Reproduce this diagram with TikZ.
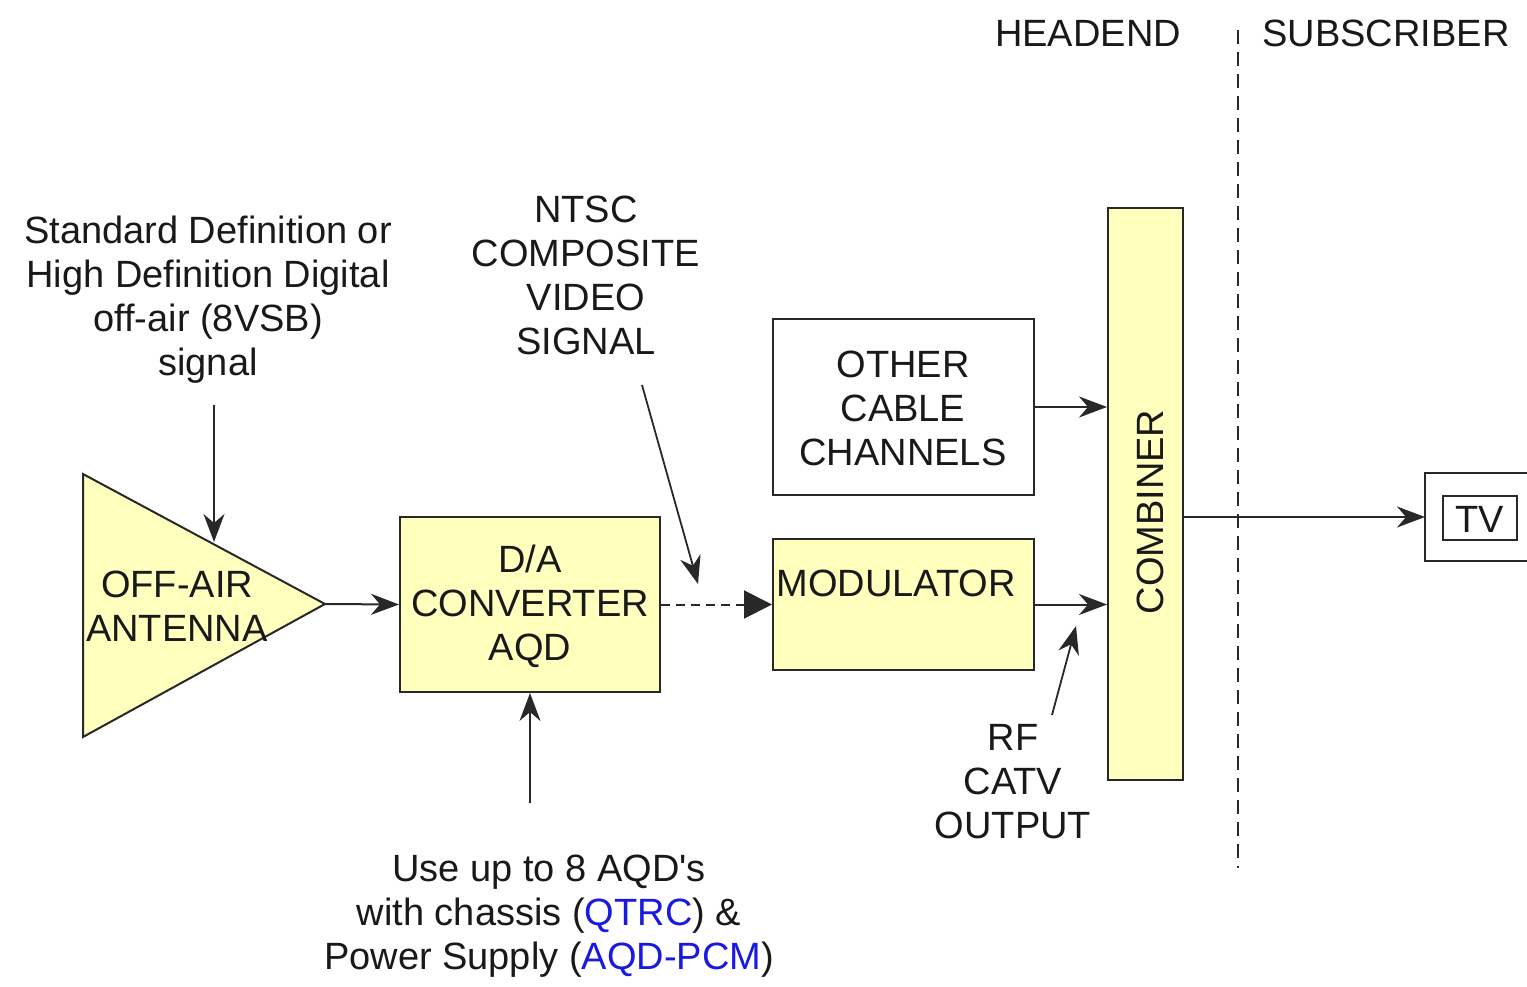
\documentclass[tikz,border=0pt]{standalone}
\usepackage{fontspec}
\setmainfont{Liberation Sans}
\usetikzlibrary{arrows.meta}
\definecolor{boxfill}{RGB}{255,255,190}
\definecolor{lnk}{RGB}{25,25,225}
\definecolor{ln}{RGB}{40,40,40}
\begin{document}
\begin{tikzpicture}[x=1pt,y=-1pt,
  txt/.style={font=\fontsize{38}{44}\selectfont, align=center, inner sep=0pt, text=black!90},
  blk/.style={draw=ln, line width=2pt, fill=boxfill, inner sep=0pt},
  wbox/.style={draw=ln, line width=2pt, fill=white, inner sep=0pt},
  arr/.style={draw=ln, line width=2pt, -{Stealth[length=28pt,width=21pt,inset=9pt]}},
  thin arr/.style={draw=ln, line width=1.8pt, -{Stealth[length=28pt,width=21pt,inset=9pt]}},
]
\useasboundingbox (0,0) rectangle (1527,987);
\clip (0,0) rectangle (1527,987);

% antenna triangle
\draw[ln, line width=2pt, fill=boxfill] (83,474) -- (325,604) coordinate (antTip) -- (83,737) -- cycle;
\node[txt] (ant) at (177,606) {OFF-AIR\\ANTENNA};
\coordinate (antTop) at (214,542);

% boxes
\node[blk, minimum width=260pt, minimum height=175pt] (da) at (530,604.5) {};
\node[txt] (datxt) at (530,606) {D/A\\CONVERTER\\AQD};
\node[blk, minimum width=261pt, minimum height=131pt] (mod) at (903.5,604.5) {};
\node[txt] (modtxt) at (896,583) {MODULATOR};
\node[wbox, minimum width=261pt, minimum height=176pt] (oth) at (903.5,407) {};
\node[txt] (othtxt) at (903,408) {OTHER\\CABLE\\CHANNELS};
\node[blk, minimum width=75pt, minimum height=572pt] (comb) at (1145.5,494) {};
\node[txt, rotate=90] (combtxt) at (1150,512) {COMBINER};

% TV
\draw[ln, line width=2pt] (1545,473) -- (1425,473) -- (1425,561) -- (1545,561);
\coordinate (tvIn) at (1425,517);
\node[draw=ln, line width=2pt, minimum width=74pt, minimum height=44pt, inner sep=0pt] (tv) at (1480,518) {};
\node[txt] (tvtxt) at (1480,519) {TV};

% texts
\node[txt] (std) at (208,300) {Standard Definition or\\High Definition Digital\\off-air (8VSB)\\signal};
\node[txt] (ntsc) at (586,275) {NTSC\\COMPOSITE\\VIDEO\\SIGNAL};
\node[txt] (rf) at (1013,782) {RF\\CATV\\OUTPUT};
\node[txt] (use) at (549,916) {Use up to 8 AQD\textquotesingle s\\with chassis (\textcolor{lnk}{QTRC}) \&\\Power Supply (\textcolor{lnk}{AQD-PCM})};
\node[txt] (head) at (1088,33) {HEADEND};
\node[txt] (sub) at (1386,33) {SUBSCRIBER};

% separator
\coordinate (sepTop) at (1238,30);
\coordinate (sepBot) at (1238,868);
\draw[ln, line width=1.6pt, dash pattern=on 14pt off 8pt] (sepTop) -- (sepBot);

% connectors
\coordinate (stdA) at (214,405);
\draw[thin arr] (stdA) -- (antTop);
\draw[arr] (antTip) -- (da.west);
\draw[ln, line width=2pt, dash pattern=on 9pt off 6pt, -{Triangle[length=28pt,width=28pt]}] (da.east) -- (mod.west);
\coordinate (ntscA) at (642,385);
\coordinate (ntscB) at (698,584);
\draw[thin arr] (ntscA) -- (ntscB);
\draw[arr] (oth.east) -- (oth.east -| comb.west);
\draw[arr] (mod.east) -- (mod.east -| comb.west);
\coordinate (rfA) at (1052,715);
\coordinate (rfB) at (1076,626);
\draw[thin arr] (rfA) -- (rfB);
\draw[arr] (tvIn -| comb.east) -- (tvIn);
\coordinate (useA) at (530,803);
\draw[thin arr] (useA) -- (da.south);
\end{tikzpicture}
\end{document}
